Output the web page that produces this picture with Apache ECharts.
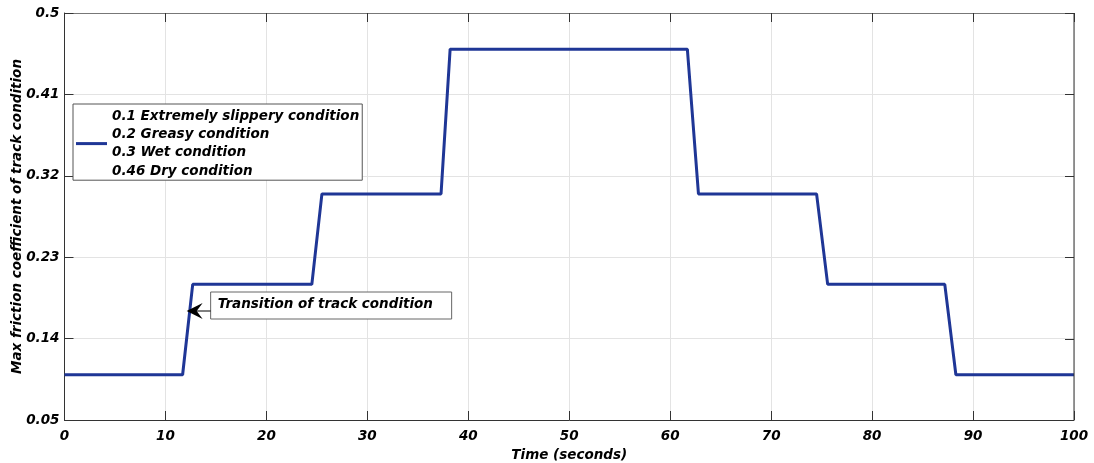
<!DOCTYPE html>
<html><head><meta charset="utf-8">
<script src="https://cdn.jsdelivr.net/npm/echarts@6/dist/echarts.min.js"></script>
<style>html,body{margin:0;padding:0;background:#fff}#c{width:1094px;height:463px}</style>
</head><body><div id="c"></div>
<script>
const timeValues = [0, 11.7, 12.7, 24.5, 25.5, 37.3, 38.2, 61.7, 62.8, 74.5, 75.6, 87.2, 88.3, 100];
const frictionValues = [0.1, 0.1, 0.2, 0.2, 0.3, 0.3, 0.46, 0.46, 0.3, 0.3, 0.2, 0.2, 0.1, 0.1];
const yTicks = [0.05, 0.14, 0.23, 0.32, 0.41, 0.5];
const legendLines = ['0.1 Extremely slippery condition', '0.2 Greasy condition', '0.3 Wet condition', '0.46 Dry condition'];
const annotationText = 'Transition of track condition';
const annotationPoint = [12.1, 0.1705];

const FONT = 'DejaVu Sans';
const txt = {fontFamily: FONT, fontWeight: 'bold', fontStyle: 'italic', color: '#000', fontSize: 13.5};
const chart = echarts.init(document.getElementById('c'));
const seriesName = legendLines.join('\n');
chart.setOption({
  animation: false,
  backgroundColor: '#fff',
  grid: {left: 64.5, right: 20, top: 13, bottom: 43, containLabel: false, outerBoundsMode: 'none'},
  legend: {
    left: 73, top: 104, orient: 'vertical',
    data: [{name: seriesName, icon: 'rect'}],
    itemWidth: 31, itemHeight: 3, itemGap: 0,
    padding: [3, 3, 0, 3],
    borderColor: '#555', borderWidth: 1, backgroundColor: '#fff',
    textStyle: Object.assign({}, txt, {lineHeight: 18.3})
  },
  xAxis: [{
    type: 'value', min: 0, max: 100, interval: 10,
    name: 'Time (seconds)', nameLocation: 'middle', nameGap: 28, nameMoveOverlap: false,
    nameTextStyle: Object.assign({}, txt),
    axisLine: {show: true, lineStyle: {color: '#333', width: 1}},
    axisTick: {show: true, inside: true, length: 9, lineStyle: {color: '#333'}},
    axisLabel: Object.assign({}, txt, {margin: 9}),
    splitLine: {show: true, lineStyle: {color: '#e3e3e3', width: 1}}
  }, {
    type: 'value', min: 0, max: 100, interval: 10, position: 'top',
    axisLine: {show: true, lineStyle: {color: '#777', width: 1}},
    axisTick: {show: true, inside: true, length: 9, lineStyle: {color: '#333'}},
    axisLabel: {show: false}, splitLine: {show: false}
  }],
  yAxis: [{
    type: 'value', min: 0.05, max: 0.5, interval: 0.09,
    name: 'Max friction coefficient of track condition', nameLocation: 'middle', nameGap: 40, nameMoveOverlap: false,
    nameTextStyle: Object.assign({}, txt),
    axisLine: {show: true, lineStyle: {color: '#333', width: 1}},
    axisTick: {show: true, inside: true, length: 9, lineStyle: {color: '#333'}},
    axisLabel: Object.assign({}, txt, {margin: 5, formatter: v => {
      const t = yTicks.find(k => Math.abs(k - v) < 1e-6); return t !== undefined ? String(t) : '';
    }}),
    splitLine: {show: true, lineStyle: {color: '#e3e3e3', width: 1}}
  }],
  series: [{
    name: seriesName, type: 'line', showSymbol: false, symbol: 'none',
    lineStyle: {color: '#1f3696', width: 3}, itemStyle: {color: '#1f3696'},
    data: timeValues.map((t, i) => [t, frictionValues[i]])
  }]
});
const tip = chart.convertToPixel({gridIndex: 0}, annotationPoint);
const boxX = tip[0] + 24, boxY = tip[1] - 19, boxW = 241, boxH = 27;
const rightX = chart.convertToPixel({xAxisIndex: 0}, 100);
const topY = chart.convertToPixel({yAxisIndex: 0}, 0.5);
const botY = chart.convertToPixel({yAxisIndex: 0}, 0.05);
const frame = [
  {type: 'line', shape: {x1: rightX, y1: topY, x2: rightX, y2: botY}, style: {stroke: '#333', lineWidth: 1}, z: 50}
];
yTicks.forEach(v => {
  const y = Math.round(chart.convertToPixel({yAxisIndex: 0}, v)) + 0.5;
  frame.push({type: 'line', shape: {x1: rightX - 9, y1: y, x2: rightX, y2: y}, style: {stroke: '#333', lineWidth: 1}, z: 50});
});
chart.setOption({
  graphic: frame.concat([
    {type: 'rect', shape: {x: boxX, y: boxY, width: boxW, height: boxH},
     style: {fill: '#fff', stroke: '#666', lineWidth: 1}, z: 100},
    {type: 'text', x: boxX + 7, y: boxY + boxH / 2 - 1,
     style: {text: annotationText, font: 'italic bold 13.5px "' + FONT + '"', fill: '#000', textVerticalAlign: 'middle'}, z: 101},
    {type: 'line', shape: {x1: boxX, y1: tip[1], x2: tip[0] + 8, y2: tip[1]},
     style: {stroke: '#000', lineWidth: 1}, z: 100},
    {type: 'polygon', shape: {points: [[tip[0], tip[1]], [tip[0] + 16, tip[1] - 8], [tip[0] + 10, tip[1]], [tip[0] + 16, tip[1] + 8]]},
     style: {fill: '#000'}, z: 101}
  ])
});
</script></body></html>
